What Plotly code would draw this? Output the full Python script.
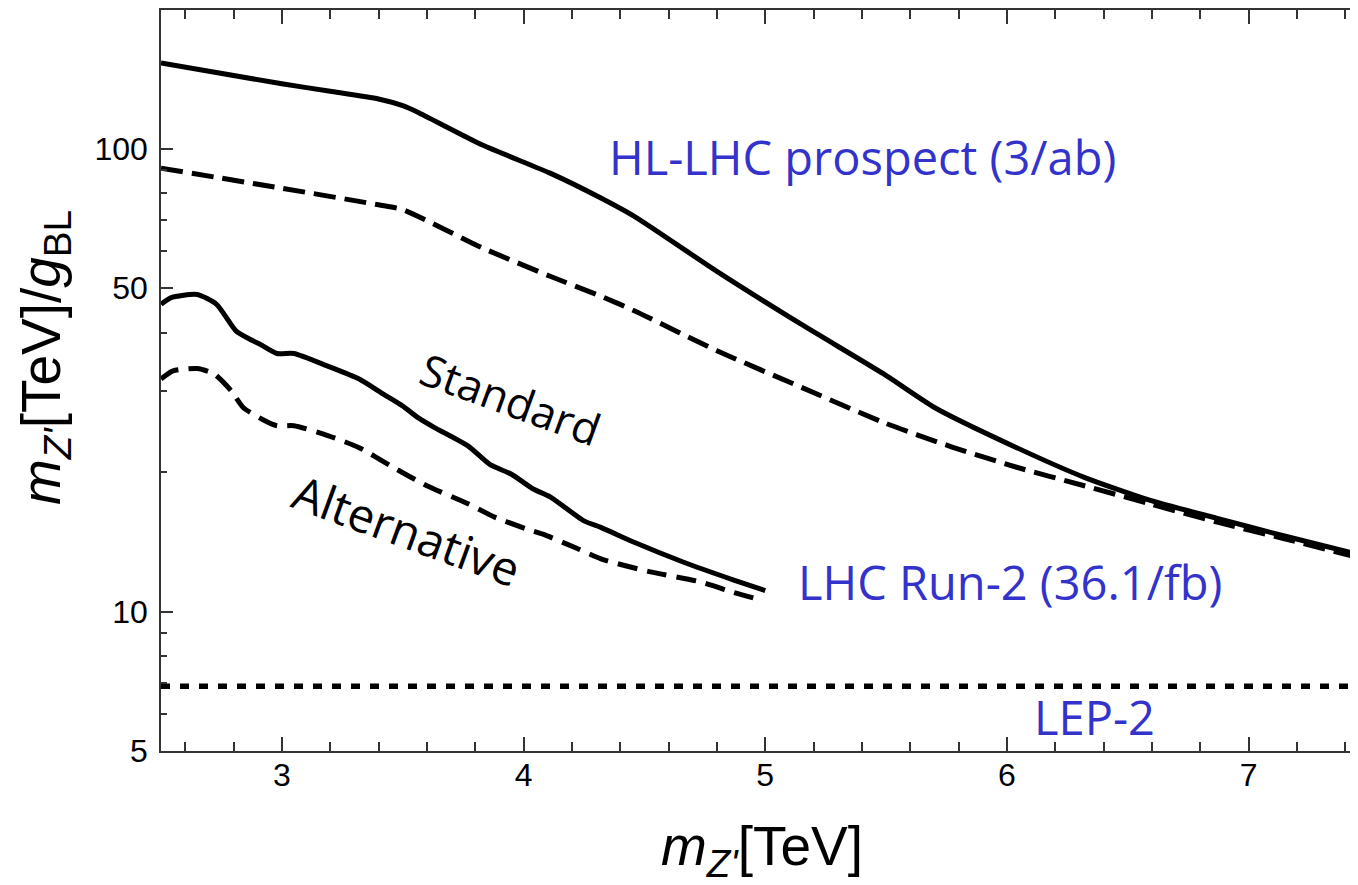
import numpy as np
import plotly.graph_objects as go

# HL-LHC prospect (3/ab)
hl_std_x = [2.5, 3.0, 3.2, 3.4, 3.5, 3.56, 3.83, 4.11, 4.32, 4.46, 4.80, 5.15, 5.49, 5.70, 6.04, 6.32, 6.59, 6.87, 7.14, 7.45]
hl_std_y = [153, 138, 133, 128, 123.8, 120, 101.8, 88.5, 78.2, 71.3, 54.3, 41.7, 32.6, 27.6, 22.6, 19.5, 17.4, 15.9, 14.6, 13.3]

hl_alt_x = [2.5, 3.0, 3.4, 3.5, 3.83, 4.11, 4.32, 4.46, 4.80, 5.15, 5.49, 5.77, 6.04, 6.32, 6.59, 6.87, 7.14, 7.45]
hl_alt_y = [90.7, 82.1, 75.6, 73.8, 61.0, 53.0, 48.0, 44.6, 36.6, 30.5, 25.6, 22.7, 20.5, 18.7, 17.1, 15.6, 14.4, 13.1]

# LHC Run-2 (36.1/fb)
r2_std_x = [2.5, 2.54, 2.65, 2.73, 2.81, 2.87, 2.91, 2.98, 3.05, 3.19, 3.32, 3.42, 3.50, 3.56, 3.63, 3.77, 3.86, 3.95, 4.04, 4.11, 4.25, 4.32, 4.46, 4.66, 4.87, 5.0]
r2_std_y = [46.1, 47.6, 48.4, 46.1, 40.4, 38.7, 37.8, 36.1, 36.1, 33.9, 31.8, 29.5, 27.8, 26.3, 25.0, 22.8, 20.8, 19.8, 18.4, 17.7, 15.7, 15.2, 14.1, 12.8, 11.7, 11.1]

r2_alt_x = [2.5, 2.55, 2.65, 2.72, 2.79, 2.84, 2.92, 2.98, 3.05, 3.19, 3.32, 3.46, 3.60, 3.77, 3.88, 4.01, 4.08, 4.22, 4.32, 4.52, 4.73, 4.87, 4.98]
r2_alt_y = [31.8, 33.1, 33.5, 32.6, 30.0, 27.6, 26.0, 25.2, 25.2, 24.0, 22.6, 20.5, 18.7, 17.1, 16.0, 15.1, 14.7, 13.7, 13.0, 12.2, 11.6, 11.0, 10.6]

# LEP-2 bound
lep_x = [2.5, 7.46]
lep_y = [6.9, 6.9]

x_ticks = [3, 4, 5, 6, 7]
y_ticks = [5, 10, 50, 100]
y_minor = [6, 7, 8, 9, 20, 30, 40, 60, 70, 80, 90]

fig = go.Figure()

def add_line(x, y, dash, width=5):
    fig.add_trace(go.Scatter(
        x=x, y=y, mode="lines",
        line=dict(color="black", width=width, dash=dash, shape="spline", smoothing=0.6),
        showlegend=False, hoverinfo="skip"))

add_line(hl_std_x, hl_std_y, "solid")
add_line(hl_alt_x, hl_alt_y, "22px,9px")
add_line(r2_std_x, r2_std_y, "solid")
add_line(r2_alt_x, r2_alt_y, "20px,10px")
fig.add_trace(go.Scatter(x=lep_x, y=lep_y, mode="lines",
                         line=dict(color="black", width=5.5, dash="9px,10px"),
                         showlegend=False, hoverinfo="skip"))

axis_col = "#333333"
tickfont = dict(family="Liberation Sans, Arial, sans-serif", size=32, color="black")

fig.update_xaxes(
    range=[2.5, 2.5 + 1197 / 241.7], tickvals=x_ticks, ticktext=[str(v) for v in x_ticks],
    ticks="inside", ticklen=14, tickwidth=1.5, tickcolor=axis_col,
    showline=True, linecolor=axis_col, linewidth=1.5, mirror="ticks",
    showgrid=False, zeroline=False, tickfont=tickfont, ticklabelstandoff=-5,
    minor=dict(dtick=0.2, tick0=0, ticks="inside", ticklen=9, tickwidth=1.5,
               tickcolor=axis_col, showgrid=False),
)
fig.update_yaxes(
    type="log", range=[np.log10(5), 2.2993],
    tickvals=y_ticks, ticktext=[str(v) for v in y_ticks],
    ticks="inside", ticklen=12, tickwidth=1.5, tickcolor=axis_col,
    showline=True, linecolor=axis_col, linewidth=1.5, mirror=False,
    showgrid=False, zeroline=False, tickfont=tickfont, ticklabelstandoff=5,
    minor=dict(tickvals=y_minor, ticks="inside", ticklen=6, tickwidth=1.5,
               tickcolor=axis_col, showgrid=False),
)

blue = "rgb(51,51,204)"
lab_font = "Open Sans, Noto Sans, sans-serif"
title_font = dict(family="Liberation Sans, Arial, sans-serif", size=55, color="black")

annotations = [
    dict(x=5.401, y=1.9828, text="HL-LHC prospect (3/ab)", showarrow=False,
         font=dict(family=lab_font, size=47, color=blue)),
    dict(x=6.011, y=1.0633, text="LHC Run-2 (36.1/fb)", showarrow=False,
         font=dict(family=lab_font, size=47, color=blue)),
    dict(x=6.361, y=0.7726, text="LEP-2", showarrow=False,
         font=dict(family=lab_font, size=47, color=blue)),
    dict(x=3.949, y=np.log10(28.8), text="Standard", showarrow=False, textangle=20,
         font=dict(family=lab_font, size=44, color="black")),
    dict(x=3.515, y=1.1753, text="Alternative", showarrow=False, textangle=20,
         font=dict(family=lab_font, size=47, color="black")),
    dict(xref="paper", yref="paper", x=0.502, y=0, yshift=-99, xanchor="center", yanchor="middle",
         text="<i>m</i><sub><i>Z'</i></sub>[TeV]", showarrow=False, font=title_font),
    dict(xref="paper", yref="paper", x=0, xshift=-116, y=0.5303, xanchor="center", yanchor="middle",
         textangle=-90, text="<i>m</i><sub><i>Z'</i></sub>[TeV]/<i>g</i><sub>BL</sub>",
         showarrow=False, font=title_font),
]

fig.update_layout(
    width=1350, height=877,
    margin=dict(l=153, r=0, t=0, b=134),
    plot_bgcolor="white", paper_bgcolor="white",
    showlegend=False,
    annotations=annotations,
)

fig.write_html("out.html")
